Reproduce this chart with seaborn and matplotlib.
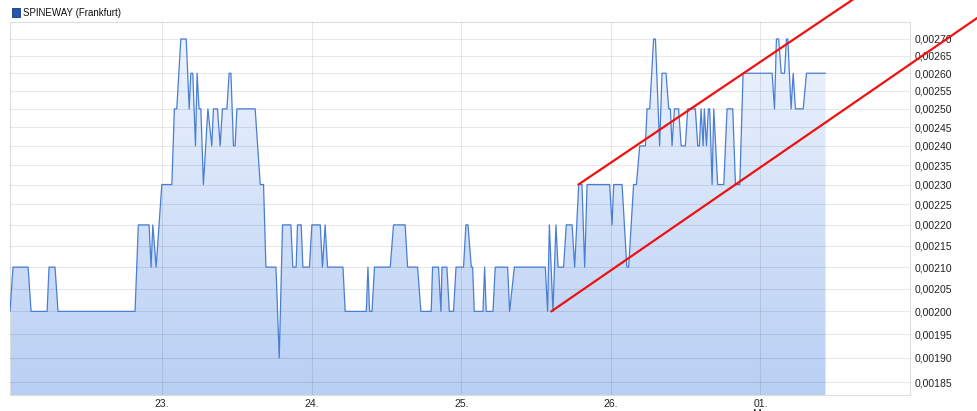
import numpy as np
import seaborn as sns
import matplotlib.pyplot as plt
from matplotlib.patches import Rectangle
from matplotlib.colors import LinearSegmentedColormap

sns.set_style("white")
plt.rcParams['font.family'] = ['Liberation Sans', 'DejaVu Sans']

# time in trading days (0 = start of 22. Feb), weekends collapsed
times = [-0.017, 0.003, 0.104, 0.124, 0.231, 0.244, 0.284, 0.304, 0.819, 0.841,
         0.913, 0.926, 0.938, 0.960, 0.998, 1.065, 1.082, 1.098, 1.125, 1.161,
         1.181, 1.192, 1.205, 1.223, 1.234, 1.247, 1.259, 1.276, 1.306, 1.332,
         1.343, 1.370, 1.388, 1.403, 1.433, 1.448, 1.460, 1.477, 1.488, 1.500,
         1.622, 1.656, 1.678, 1.694, 1.761, 1.783, 1.805, 1.861, 1.874, 1.896,
         1.905, 1.930, 1.941, 1.985, 2.001, 2.057, 2.072, 2.090, 2.106, 2.209,
         2.224, 2.365, 2.376, 2.387, 2.403, 2.420, 2.525, 2.547, 2.625, 2.641,
         2.708, 2.730, 2.799, 2.808, 2.848, 2.864, 2.871, 2.904, 2.920, 2.948,
         2.965, 3.015, 3.031, 3.045, 3.067, 3.076, 3.087, 3.145, 3.156, 3.167,
         3.212, 3.227, 3.310, 3.323, 3.355, 3.562, 3.577, 3.589, 3.613, 3.633,
         3.647, 3.684, 3.702, 3.741, 3.758, 3.785, 3.807, 3.825, 3.841, 3.992,
         4.008, 4.019, 4.075, 4.107, 4.119, 4.152, 4.171, 4.193, 4.231, 4.242,
         4.260, 4.286, 4.298, 4.326, 4.342, 4.369, 4.387, 4.398, 4.409, 4.425,
         4.453, 4.470, 4.498, 4.514, 4.565, 4.581, 4.592, 4.603, 4.617, 4.625,
         4.639, 4.652, 4.661, 4.677, 4.688, 4.714, 4.755, 4.777, 4.815, 4.833,
         4.862, 4.884, 5.078, 5.094, 5.107, 5.122, 5.139, 5.161, 5.174, 5.183,
         5.205, 5.219, 5.234, 5.286, 5.308, 5.435]
prices = [0.00200, 0.00210, 0.00210, 0.00200, 0.00200, 0.00210, 0.00210, 0.00200, 0.00200, 0.00220,
          0.00220, 0.00210, 0.00220, 0.00210, 0.00230, 0.00230, 0.00250, 0.00250, 0.00270, 0.00270,
          0.00250, 0.00260, 0.00260, 0.00240, 0.00260, 0.00250, 0.00250, 0.00230, 0.00250, 0.00240,
          0.00250, 0.00250, 0.00240, 0.00250, 0.00250, 0.00260, 0.00260, 0.00240, 0.00240, 0.00250,
          0.00250, 0.00230, 0.00230, 0.00210, 0.00210, 0.00190, 0.00220, 0.00220, 0.00210, 0.00210,
          0.00220, 0.00220, 0.00210, 0.00210, 0.00220, 0.00220, 0.00210, 0.00220, 0.00210, 0.00210,
          0.00200, 0.00200, 0.00210, 0.00200, 0.00200, 0.00210, 0.00210, 0.00220, 0.00220, 0.00210,
          0.00210, 0.00200, 0.00200, 0.00210, 0.00210, 0.00200, 0.00210, 0.00210, 0.00200, 0.00200,
          0.00210, 0.00210, 0.00220, 0.00220, 0.00210, 0.00210, 0.00200, 0.00200, 0.00210, 0.00200,
          0.00200, 0.00210, 0.00210, 0.00200, 0.00210, 0.00210, 0.00200, 0.00220, 0.00200, 0.00220,
          0.00210, 0.00210, 0.00220, 0.00220, 0.00210, 0.00230, 0.00230, 0.00210, 0.00230, 0.00230,
          0.00220, 0.00230, 0.00230, 0.00210, 0.00210, 0.00230, 0.00230, 0.00240, 0.00240, 0.00250,
          0.00250, 0.00270, 0.00270, 0.00240, 0.00260, 0.00260, 0.00250, 0.00250, 0.00240, 0.00250,
          0.00250, 0.00240, 0.00240, 0.00250, 0.00250, 0.00240, 0.00240, 0.00250, 0.00240, 0.00250,
          0.00240, 0.00250, 0.00250, 0.00230, 0.00250, 0.00230, 0.00230, 0.00250, 0.00250, 0.00230,
          0.00230, 0.00260, 0.00260, 0.00250, 0.00270, 0.00270, 0.00260, 0.00260, 0.00270, 0.00270,
          0.00250, 0.00260, 0.00250, 0.00250, 0.00260, 0.00260]

day_ticks = [1, 2, 3, 4, 5]
day_labels = ['23.', '24.', '25.', '26.', '01.\nMrz']
price_ticks = [0.00185, 0.00190, 0.00195, 0.00200, 0.00205, 0.00210, 0.00215, 0.00220,
               0.00225, 0.00230, 0.00235, 0.00240, 0.00245, 0.00250, 0.00255, 0.00260,
               0.00265, 0.00270]

# hand drawn trend channel
upper_t = [3.783, 5.65]
upper_p = [0.00230, 0.00283]
lower_t = [3.602, 6.458]
lower_p = [0.00200, 0.002766]

x_min, x_max = -0.017, 6.0
y_min, y_max = 0.001824, 0.002751

fig = plt.figure(figsize=(9.78, 4.11), dpi=100)
ax = fig.add_axes([10/978, 1 - 395/411, 900/978, (395 - 22)/411])

# gradient area under the price line
fill = ax.fill_between(times, prices, y_min, facecolor='none', edgecolor='none')
cmap = LinearSegmentedColormap.from_list('area', ['#f0f5fe', '#b8cff4'])
grad = np.linspace(0, 1, 256).reshape(-1, 1)
img = ax.imshow(grad, cmap=cmap, extent=[0, 1, 0, 1], transform=ax.transAxes,
                aspect='auto', origin='upper', zorder=1)
img.set_clip_path(fill.get_paths()[0], transform=ax.transData)

sns.lineplot(x=times, y=prices, ax=ax, color='#4a7ed3', linewidth=0.9,
             sort=False, estimator=None, zorder=3)

sns.lineplot(x=upper_t, y=upper_p, ax=ax, color='#f01010', linewidth=1.6,
             sort=False, estimator=None, zorder=4, clip_on=False)
sns.lineplot(x=lower_t, y=lower_p, ax=ax, color='#f01010', linewidth=1.6,
             sort=False, estimator=None, zorder=4, clip_on=False)

ax.set_yscale('log')
ax.set_xlim(x_min, x_max)
ax.set_ylim(y_min, y_max)

ax.yaxis.tick_right()
ax.set_yticks(price_ticks, [f"{v:.5f}".replace('.', ',') for v in price_ticks])
ax.yaxis.set_minor_locator(plt.NullLocator())
ax.set_xticks(day_ticks, day_labels)
ax.tick_params(axis='y', length=0, pad=3, labelsize=7.5, labelcolor='#222222')
ax.tick_params(axis='x', length=0, pad=3, labelsize=7.5, labelcolor='#222222')
for lab in ax.get_xticklabels():
    lab.set_linespacing(0.95)

ax.set_axisbelow(False)
ax.grid(True, color='#000000', alpha=0.09, linewidth=0.8)
ax.set_xlabel('')
ax.set_ylabel('')
for side in ['top', 'left', 'right', 'bottom']:
    ax.spines[side].set_color('#dddddd')
    ax.spines[side].set_linewidth(0.8)

# legend entry
fig.patches.append(Rectangle((12/978, 1 - 17/411), 8/978, 9/411, transform=fig.transFigure,
                             facecolor='#2456b4', edgecolor='#15397a', linewidth=0.6))
fig.text(23/978, 1 - 12.5/411, 'SPINEWAY (Frankfurt)', fontsize=7, va='center', color='#111111')

fig.savefig('out.png', dpi=100)
